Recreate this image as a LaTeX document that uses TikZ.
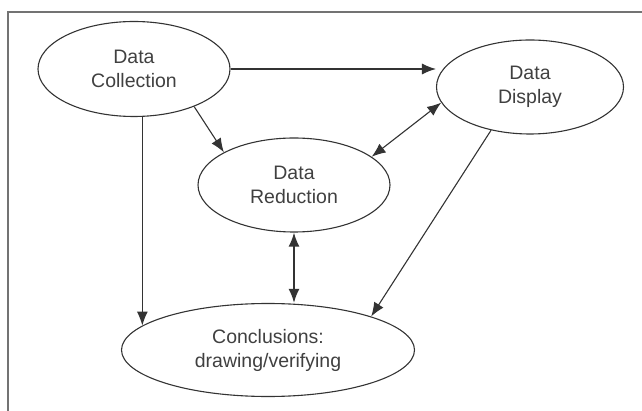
\documentclass[tikz,border=0pt]{standalone}
\usepackage{fontspec}
\setmainfont{Liberation Sans}
\usepackage{tikz}
\usetikzlibrary{calc,shapes,arrows.meta}

\begin{document}
\begin{tikzpicture}[x=1pt,y=-1pt,
  stage/.style={ellipse,draw=black!80,line width=1.1pt,inner sep=0pt,align=center,
    text=black!75,font=\fontsize{19.5}{24}\selectfont},
  tip/.style={line width=1.1pt,black!80,-{Latex[length=14pt,width=11pt]}}]
  \useasboundingbox (0,0) rectangle (642,411);
  \draw[black!55,line width=1.6pt] (8,12) rectangle (670,440);
  \node[stage,minimum width=192pt,minimum height=95pt] (coll) at (134,69) {Data\\Collection};
  \node[stage,minimum width=187pt,minimum height=94pt] (disp) at (530,87) {Data\\Display};
  \node[stage,minimum width=192pt,minimum height=94pt] (red) at (294,185) {Data\\Reduction};
  \node[stage,minimum width=293pt,minimum height=93pt] (concl) at (268,350) {Conclusions:\\drawing/verifying};
  \path[tip]
  (coll.east) edge (disp.west |- coll.east)
  (coll.-32) edge (red.155)
  (concl.169 |- coll.south) edge (concl.169)
  (disp.228) edge (concl.18);
  \path[tip,{Latex[length=14pt,width=11pt]}-{Latex[length=14pt,width=11pt]}]
  (red.20) edge (disp.190);
  \path[tip,line width=1.8pt,{Latex[length=14pt,width=11pt]}-{Latex[length=14pt,width=11pt]}]
  (red.south) edge (red.south |- concl.north);
\end{tikzpicture}
\end{document}
